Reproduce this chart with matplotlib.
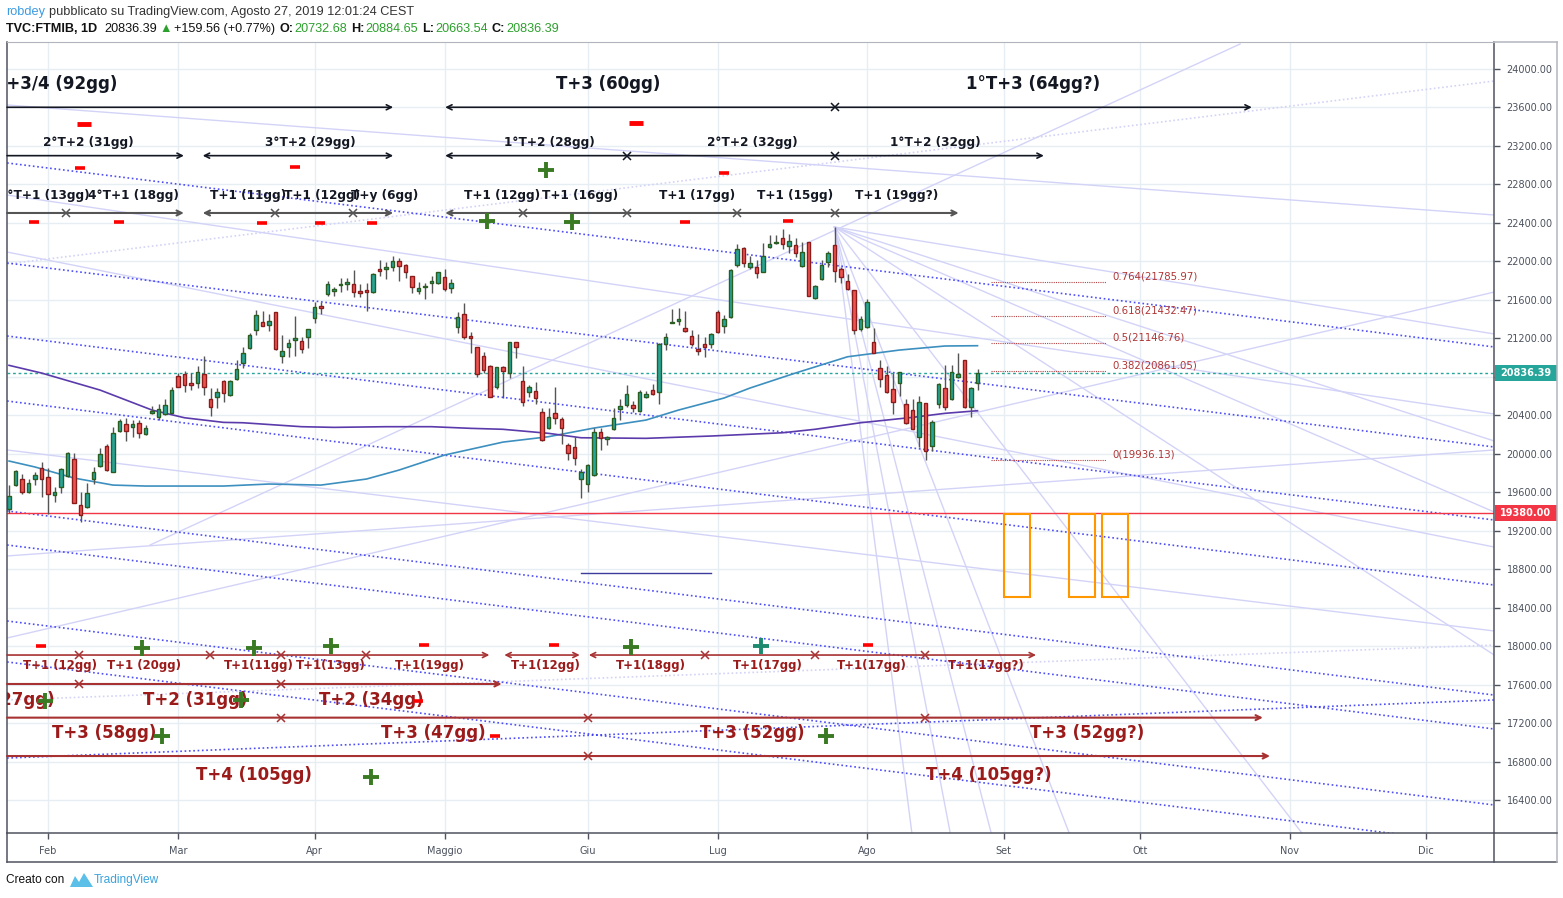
import matplotlib
matplotlib.use('Agg')
import matplotlib.pyplot as plt
from matplotlib.lines import Line2D
from matplotlib.patches import Rectangle, Polygon

W, H = 1563, 898

# ============================================================
# Candles (bar index: 0 = 1 Feb 2019, 6.5 px per bar)
# ============================================================
bar_idx = list(range(-6, 144))
opens = [19422, 19671, 19740, 19598, 19733, 19855,
         19754, 19567, 19650, 19765, 19941, 19463, 19442, 19740, 19876, 20077,
         19806, 20233, 20305, 20274, 20316, 20201, 20427, 20378, 20409, 20427,
         20808, 20829, 20725, 20739, 20829, 20565, 20593, 20752, 20607, 20773,
         20947, 21096, 21283, 21366, 21342, 21470, 21019, 21106, 21186, 21168,
         21210, 21407, 21536, 21657, 21695, 21751, 21768, 21765, 21692, 21695,
         21678, 21920, 21924, 21938, 22000, 21959, 21848, 21695, 21730, 21771,
         21771, 21834, 21719, 21321, 21449, 21214, 21106, 21012, 20912, 20697,
         20898, 20843, 21158, 20752, 20638, 20655, 20430, 20264, 20420, 20357,
         20087, 20073, 19733, 19681, 19779, 20229, 20149, 20253, 20465, 20503,
         20506, 20447, 20586, 20659, 20638, 21144, 21356, 21376, 21310, 21227,
         21089, 21144, 21137, 21470, 21328, 21418, 21959, 22135, 21945, 21938,
         21893, 22153, 22187, 22240, 22163, 22170, 21955, 22198, 21616, 21817,
         21997, 22170, 21920, 21796, 21699, 21297, 21314, 21158, 20888, 20818,
         20669, 20739, 20513, 20451, 20177, 20524, 20084, 20513, 20680, 20565,
         20794, 20971, 20482, 20732.68]
highs = [19674, 19831, 19785, 19733, 19806, 19910,
         19848, 19657, 19848, 20018, 20004, 19598, 19692, 19865, 20056, 20101,
         20274, 20361, 20368, 20350, 20350, 20298, 20496, 20517, 20565, 20690,
         20836, 20860, 20836, 20912, 21016, 20680, 20680, 20766, 20766, 20974,
         21113, 21258, 21494, 21484, 21453, 21470, 21234, 21193, 21432, 21217,
         21293, 21574, 21574, 21796, 21737, 21830, 21823, 21910, 21765, 21771,
         21875, 22014, 21990, 22056, 22035, 21972, 21848, 21782, 21771, 21848,
         21889, 21920, 21813, 21477, 21570, 21269, 21106, 21057, 20922, 20898,
         20912, 21165, 21165, 20912, 20714, 20742, 20472, 20472, 20690, 20385,
         20115, 20177, 19837, 19893, 20264, 20271, 20187, 20472, 20565, 20714,
         20544, 20662, 20655, 20725, 21154, 21252, 21501, 21511, 21484, 21286,
         21245, 21210, 21252, 21494, 21442, 21917, 22180, 22146, 22056, 22014,
         22194, 22274, 22274, 22336, 22285, 22240, 22198, 22198, 21754, 22014,
         22111, 22357, 21945, 21865, 21699, 21432, 21605, 21304, 20974, 20912,
         20836, 20853, 20565, 20565, 20600, 20531, 20350, 20739, 20922, 20922,
         21044, 20971, 20697, 20884.65]
lows = [19380, 19664, 19581, 19588, 19674, 19553,
        19373, 19501, 19588, 19761, 19484, 19293, 19439, 19685, 19865, 19820,
        19806, 20222, 20135, 20170, 20167, 20194, 20413, 20350, 20402, 20420,
        20690, 20641, 20662, 20687, 20610, 20395, 20479, 20541, 20600, 20766,
        20888, 21089, 21234, 21328, 21279, 21078, 20940, 21002, 21019, 21050,
        21102, 21362, 21453, 21643, 21643, 21685, 21702, 21626, 21633, 21487,
        21667, 21851, 21816, 21903, 21799, 21830, 21674, 21661, 21605, 21667,
        21768, 21695, 21674, 21258, 21189, 21044, 20801, 20843, 20593, 20669,
        20576, 20784, 20992, 20499, 20593, 20513, 20132, 20257, 20312, 20101,
        19934, 19882, 19543, 19605, 19768, 20038, 20090, 20246, 20350, 20489,
        20434, 20437, 20576, 20610, 20517, 21078, 21356, 21338, 21269, 21123,
        21026, 21009, 21096, 21252, 21258, 21407, 21945, 21938, 21917, 21830,
        21886, 22142, 22180, 22125, 22090, 22049, 21938, 21640, 21605, 21806,
        21945, 21789, 21778, 21702, 21245, 21276, 21307, 21044, 20697, 20635,
        20413, 20600, 20305, 20253, 20066, 19936, 20028, 20479, 20454, 20558,
        20784, 20479, 20378, 20663.54]
closes = [19564, 19817, 19605, 19699, 19775, 19733,
          19578, 19605, 19837, 20004, 19484, 19359, 19588, 19806, 19993, 19831,
          20212, 20337, 20233, 20305, 20212, 20264, 20440, 20461, 20503, 20659,
          20697, 20718, 20718, 20853, 20697, 20489, 20641, 20635, 20752, 20877,
          21050, 21238, 21439, 21331, 21380, 21085, 21064, 21148, 21203, 21085,
          21293, 21522, 21518, 21761, 21709, 21765, 21771, 21678, 21674, 21685,
          21868, 21896, 21927, 22000, 21955, 21893, 21730, 21719, 21740, 21796,
          21886, 21709, 21771, 21418, 21217, 21207, 20825, 20870, 20593, 20898,
          20863, 21158, 21106, 20541, 20697, 20576, 20139, 20378, 20368, 20264,
          20004, 19952, 19806, 19879, 20229, 20160, 20177, 20368, 20493, 20617,
          20472, 20638, 20617, 20624, 21137, 21217, 21369, 21397, 21279, 21137,
          21064, 21113, 21241, 21262, 21397, 21907, 22125, 21986, 21979, 21882,
          22056, 22180, 22190, 22177, 22208, 22083, 22094, 21643, 21744, 21962,
          22083, 21903, 21841, 21709, 21286, 21401, 21574, 21050, 20773, 20638,
          20541, 20846, 20323, 20260, 20541, 20028, 20326, 20721, 20489, 20846,
          20825, 20482, 20680, 20836.39]

# moving averages
ma_blue_x = [-6, -2, 4, 10, 15, 27, 34, 42, 49, 54, 61, 70, 77, 84, 92, 97, 104, 108, 115, 123, 131, 138, 143]
ma_blue_y = [19924, 19862, 19747, 19674, 19664, 19664, 19685, 19674, 19737, 19830, 19986, 20121, 20177,
             20267, 20350, 20454, 20579, 20683, 20839, 21008, 21078, 21120, 21123]
ma_purple_x = [-6, -1, 8, 16, 21, 27, 30, 39, 44, 52, 59, 65, 70, 77, 82, 92, 102, 113, 118, 125, 133, 138, 143]
ma_purple_y = [20919, 20839, 20662, 20454, 20374, 20326, 20322, 20281, 20274, 20281, 20281, 20264, 20254,
               20212, 20166, 20160, 20184, 20218, 20254, 20322, 20378, 20420, 20447]

# months on the time axis
month_idx = [0, 20, 41, 61, 83, 103, 126, 147, 168, 191, 212]
month_lbl = ['Feb', 'Mar', 'Apr', 'Maggio', 'Giu', 'Lug', 'Ago', 'Set', 'Ott', 'Nov', 'Dic']

last_price = 20836.39
level_price = 19380.00

# ============================================================
# Drawings (index, price pairs)
# ============================================================
channel_lines = [  # blue dotted channel
    (-6.3, 23023, 222.5, 21110), (-6.3, 21983, 222.5, 20070), (-6.3, 21224, 222.5, 19311),
    (-6.3, 20548, 222.5, 18635), (-6.3, 19405, 222.5, 17491), (-6.3, 19051, 222.5, 17138),
    (-6.3, 18261, 222.5, 16348), (-6.3, 17835, 222.5, 15921), (-6.3, 16836, 222.5, 17440),
]
faint_lines = [
    (-6.3, 23626, 222.5, 22482), (-6.3, 22097, 222.5, 19030), (-6.3, 20039, 222.5, 18157),
    (-6.3, 22690, 222.5, 20413), (15.7, 19051, 183.4, 24260), (-6.3, 18937, 222.5, 20039),
    (-6.3, 18084, 222.5, 21681),
]
faint_dotted = [(-6.3, 21973, 222.5, 23875), (-6.3, 17440, 222.5, 18011)]
fan_apex = (121, 22357)
fan_ends = [(132.9, 16057), (138.8, 16057), (145.1, 16057), (157.1, 16057), (192.9, 16057),
            (222.5, 20132), (222.5, 19394), (222.5, 17907), (222.5, 21245)]

fib_levels = [21785.97, 21432.47, 21146.76, 20861.05, 19936.13]
fib_names = ['0.764', '0.618', '0.5', '0.382', '0']
fib_span = (145.1, 162.8)

boxes = [(147.1, 151.1), (157.1, 161.1), (162.2, 166.2)]
box_top, box_bottom = 19370, 18507
short_line = (82, 102, 18759)

# date ranges: (start, end, start mark, end mark)
top_row1 = [(-6.3, 53.1, '', '>'), (61.1, 121.1, '<', 'x'), (121.1, 185.2, '', '>')]
top_row1_lbl = [(1.2, 'T+3/4 (92gg)'), (86.2, 'T+3 (60gg)'), (151.5, '1°T+3 (64gg?)')]
top_row2 = [(-6.3, 20.9, '', '>'), (23.8, 53.1, '<', '>'), (61.1, 89, '<', 'x'),
            (89, 121.1, '', 'x'), (121.1, 153.2, '', '>')]
top_row2_lbl = [(6.2, '2°T+2 (31gg)'), (40.3, '3°T+2 (29gg)'), (77.1, '1°T+2 (28gg)'),
                (108.3, '2°T+2 (32gg)'), (136.5, '1°T+2 (32gg)')]
top_row3 = [(-6.3, 2.77, '', 'x'), (2.77, 20.9, '', '>'), (23.8, 34.9, '<', 'x'), (34.9, 46.9, '', 'x'),
            (46.9, 53.1, '', '>'), (61.1, 73, '<', 'x'), (73, 89, '', 'x'), (89, 106, '', 'x'),
            (106, 121.1, '', 'x'), (121.1, 140.1, '', '>')]
top_row3_lbl = [(-0.6, '3°T+1 (13gg)'), (13.1, '4°T+1 (18gg)'), (30.8, 'T+1 (11gg)'), (42.2, 'T+1 (12gg)'),
                (51.8, 'T+y (6gg)'), (69.8, 'T+1 (12gg)'), (81.8, 'T+1 (16gg)'), (99.8, 'T+1 (17gg)'),
                (114.9, 'T+1 (15gg)'), (130.6, 'T+1 (19gg?)')]
bot_row1 = [(-6.3, 4.77, '', 'x'), (4.77, 24.85, '', 'x'), (24.85, 35.9, '', 'x'), (35.9, 48.9, '', 'x'),
            (48.9, 67.9, '', '>'), (70.2, 81.8, '<', '>'), (83.2, 101.1, '<', 'x'), (101.1, 118, '', 'x'),
            (118, 134.9, '', 'x'), (134.9, 152, '', '>')]
bot_row1_lbl = [(1.8, 'T+1 (12gg)'), (14.8, 'T+1 (20gg)'), (32.5, 'T+1(11gg)'), (43.5, 'T+1(13gg)'),
                (58.8, 'T+1(19gg)'), (76.6, 'T+1(12gg)'), (92.7, 'T+1(18gg)'), (110.7, 'T+1(17gg)'),
                (126.8, 'T+1(17gg)'), (144.3, 'T+1(17gg?)')]
bot_row2 = [(-6.3, 4.77, '', 'x'), (4.77, 35.9, '', 'x'), (35.9, 69.8, '', '>')]
bot_row2_lbl = [(-7.0, 'T+2 (27gg)'), (22.7, 'T+2 (31gg)'), (49.8, 'T+2 (34gg)')]
bot_row3 = [(-6.3, 35.9, '', 'x'), (35.9, 83.1, '', 'x'), (83.1, 134.9, '', 'x'), (134.9, 186.9, '', '>')]
bot_row3_lbl = [(8.7, 'T+3 (58gg)'), (59.2, 'T+3 (47gg)'), (108.3, 'T+3 (52gg)'), (159.8, 'T+3 (52gg?)')]
bot_row4 = [(-6.3, 83.1, '', 'x'), (83.1, 188, '', '>')]
bot_row4_lbl = [(31.7, 'T+4 (105gg)'), (144.7, 'T+4 (105gg?)')]
row_price = {'t1': 23602, 't2': 23099, 't3': 22503, 'b1': 17907, 'b2': 17606, 'b3': 17256, 'b4': 16857}
lbl_price = {'t1': 23844, 't2': 23231, 't3': 22680, 'b1': 17793, 'b2': 17440, 'b3': 17096, 'b4': 16660}

# +/- signals
minus_big = [(5.5, 23425), (90.5, 23436)]
minus_small = [(4.85, 22968), (38, 22976), (104, 22915), (-2.2, 22406), (10.85, 22406), (32.85, 22396),
               (41.9, 22396), (49.9, 22396), (98, 22410), (113.9, 22417),
               (-1.1, 18001), (57.9, 18011), (77.9, 18011), (126.2, 18011), (56.9, 17426), (68.8, 17070)]
plus_green = [(76.6, 22950), (67.6, 22420), (80.6, 22410),
              (14.5, 17985), (31.7, 17980), (43.5, 18001), (89.7, 17990),
              (-0.4, 17434), (29.7, 17439), (17.5, 17070), (119.7, 17070), (49.7, 16634)]
plus_teal = [(109.7, 18001)]

# ============================================================
# Styles
# ============================================================
C_AXIS = '#50535e'
C_TXT = '#4c525e'
C_GRID = '#e6edf3'
C_UP, C_UP_EDGE = '#26a69a', '#2b5d20'
C_DN, C_DN_EDGE = '#ef5350', '#8b1c1c'
C_DARK = '#131722'
C_RED_LBL = '#9b1b1b'
C_FAINT = '#d3d3f8'


def px(x, y):
    return x / W, 1 - y / H


def seg(ax, lines, **kw):
    for x0, y0, x1, y1 in lines:
        ax.plot([x0, x1], [y0, y1], **kw)


def draw_ranges(ax, segs, y, color, lw):
    for x0, x1, m0, m1 in segs:
        style = {('', '>'): '->', ('<', '>'): '<->', ('<', 'x'): '<-', ('<', ''): '<-'}.get((m0, m1), '-')
        ax.annotate('', xy=(x1, y), xytext=(x0, y),
                    arrowprops=dict(arrowstyle=style, color=color, lw=lw, shrinkA=0, shrinkB=0,
                                    mutation_scale=9), zorder=6)
        for m, xx in ((m0, x0), (m1, x1)):
            if m == 'x':
                ax.plot(xx, y, marker='x', ms=5.5, mew=1.1, color=color, zorder=6)


def draw_labels(ax, labels, y, color, size, weight='bold'):
    for xx, s in labels:
        ax.text(xx, y, s, ha='center', va='center', color=color, fontsize=size,
                fontweight=weight, family='DejaVu Sans', clip_on=True, zorder=7)


fig = plt.figure(figsize=(W / 100, H / 100), dpi=100)
fig.patch.set_facecolor('white')
ax = fig.add_axes([7 / W, (H - 833) / H, 1487 / W, 791 / H])
ax.set_xlim(-6.31, 222.46)
ax.set_ylim(16056.7, 24280.7)

# grid
ax.set_yticks(list(range(16400, 24001, 400)))
ax.yaxis.set_major_formatter(plt.FuncFormatter(lambda v, p: f'{v:.2f}'))
ax.yaxis.tick_right()
ax.set_xticks(month_idx, month_lbl)
ax.grid(True, color=C_GRID, lw=1, zorder=0)
ax.set_axisbelow(True)
ax.tick_params(axis='y', direction='out', length=4, width=1, color=C_AXIS, labelsize=7,
               labelcolor=C_TXT, pad=5, right=True, labelright=True, left=False, labelleft=False)
ax.tick_params(axis='x', direction='out', length=4, width=1, color=C_AXIS, labelsize=7,
               labelcolor=C_TXT, pad=5)
for side in ('left', 'right', 'bottom'):
    ax.spines[side].set_color(C_AXIS)
    ax.spines[side].set_linewidth(1.1)
ax.spines['top'].set_color('#b2b5be')
ax.spines['top'].set_linewidth(0.8)

# faint drawings
seg(ax, faint_lines, color=C_FAINT, lw=1, zorder=1)
seg(ax, faint_dotted, color=C_FAINT, lw=1.2, ls=(0, (1, 1.5)), zorder=1)
for ex, ey in fan_ends:
    ax.plot([fan_apex[0], ex], [fan_apex[1], ey], color=C_FAINT, lw=1, zorder=1)
seg(ax, channel_lines, color='#2f2ff5', lw=1.2, ls=(0, (1, 1.6)), alpha=0.85, zorder=2)

# levels
ax.axhline(level_price, color='#f23645', lw=1, zorder=2)
ax.axhline(last_price, color='#26a69a', lw=1, ls=(0, (2, 2)), zorder=2)
ax.plot([short_line[0], short_line[1]], [short_line[2], short_line[2]], color='#3c3c9c', lw=1, zorder=2)

# moving averages
ax.plot(ma_blue_x, ma_blue_y, color='#3d8fbf', lw=1.2, zorder=3)
ax.plot(ma_purple_x, ma_purple_y, color='#5b3bab', lw=1.2, zorder=3)

# candles
body_lo = [min(o, c) for o, c in zip(opens, closes)]
body_h = [max(abs(c - o), 18) for o, c in zip(opens, closes)]
up = [c >= o for o, c in zip(opens, closes)]
ax.vlines(bar_idx, lows, highs, color='#555555', lw=1, zorder=3.5)
ax.bar(bar_idx, body_h, bottom=body_lo, width=0.58,
       color=[C_UP if u else C_DN for u in up],
       edgecolor=[C_UP_EDGE if u else C_DN_EDGE for u in up], linewidth=1, zorder=4)

# fib retracement
for lv, nm in zip(fib_levels, fib_names):
    ax.plot(fib_span, [lv, lv], color='#b24545', lw=0.8, ls=(0, (1, 1)), zorder=2)
    ax.text(fib_span[1] + 1.0, lv + 60, f'{nm}({lv:.2f})', color='#b03535', fontsize=7.3,
            ha='left', va='center', zorder=7)

# orange boxes
for x0, x1 in boxes:
    ax.add_patch(Rectangle((x0, box_bottom), x1 - x0, box_top - box_bottom, fill=False,
                           ec='#ff9800', lw=1.5, zorder=5))

# date ranges
draw_ranges(ax, top_row1, row_price['t1'], C_DARK, 1.2)
draw_ranges(ax, top_row2, row_price['t2'], C_DARK, 1.2)
draw_ranges(ax, top_row3, row_price['t3'], '#555555', 1.5)
draw_ranges(ax, bot_row1, row_price['b1'], '#a83232', 1.2)
draw_ranges(ax, bot_row2, row_price['b2'], '#a83232', 1.5)
draw_ranges(ax, bot_row3, row_price['b3'], '#a83232', 1.5)
draw_ranges(ax, bot_row4, row_price['b4'], '#a83232', 1.5)
draw_labels(ax, top_row1_lbl, lbl_price['t1'], C_DARK, 12)
draw_labels(ax, top_row2_lbl, lbl_price['t2'], C_DARK, 8.7)
draw_labels(ax, top_row3_lbl, lbl_price['t3'], C_DARK, 8.7)
draw_labels(ax, bot_row1_lbl, lbl_price['b1'], C_RED_LBL, 8.5)
draw_labels(ax, bot_row2_lbl, lbl_price['b2'], C_RED_LBL, 12)
draw_labels(ax, bot_row3_lbl, lbl_price['b3'], C_RED_LBL, 12)
draw_labels(ax, bot_row4_lbl, lbl_price['b4'], C_RED_LBL, 12)

# signals
for xx, yy in minus_big:
    ax.plot(xx, yy, marker='_', ms=10.5, mew=3.5, color='#ff0000', zorder=8)
for xx, yy in minus_small:
    ax.plot(xx, yy, marker='_', ms=7, mew=2.6, color='#ff0000', zorder=8)
for xx, yy in plus_green:
    ax.plot(xx, yy, marker='+', ms=11, mew=2.8, color='#3a7a22', zorder=8)
for xx, yy in plus_teal:
    ax.plot(xx, yy, marker='+', ms=11, mew=2.8, color='#1b8a6e', zorder=8)

# price labels on the axis
ytr = ax.get_yaxis_transform()
for val, col in ((last_price, '#26a69a'), (level_price, '#f23645')):
    ax.add_patch(Rectangle((1.0005, val - 82), 0.0418, 166, transform=ytr, fc=col, ec='none',
                           clip_on=False, zorder=9))
    ax.text(1.0005 + 0.0209, val, f'{val:.2f}', transform=ytr, color='white', fontsize=7,
            fontweight='bold', ha='center', va='center', clip_on=False, zorder=10)

# frame around time / price scales
for (x0, y0, x1, y1) in ((1494, 833, 1494, 862), (7, 833, 7, 862), (7, 862, 1557, 862),
                         (1557, 42, 1557, 862), (1494, 833, 1557, 833), (1494, 42, 1557, 42)):
    a, b = px(x0, y0)
    c, d = px(x1, y1)
    fig.add_artist(Line2D([a, c], [b, d], color=C_AXIS if y0 != 42 else '#b2b5be', lw=1.1))

# header
fam = ['Liberation Sans', 'DejaVu Sans']
renderer = fig.canvas.get_renderer()


def text_run(x, y, pieces, size):
    for s, col, wt, gap in pieces:
        t = fig.text(*px(x, y), s, color=col, fontsize=size, fontweight=wt, family=fam,
                     ha='left', va='center')
        x += t.get_window_extent(renderer).width + gap


GREEN = '#2ca02c'
text_run(6, 12, [('robdey', '#3c9be3', 'normal', 4),
                 ('pubblicato su TradingView.com, Agosto 27, 2019 12:01:24 CEST', '#333333', 'normal', 0)], 9.2)
text_run(6, 29, [('TVC:FTMIB, 1D', '#111111', 'bold', 7), ('20836.39', '#111111', 'normal', 3),
                 ('▲', GREEN, 'normal', 2), ('+159.56 (+0.77%)', '#111111', 'normal', 4),
                 ('O:', '#111111', 'bold', 1), ('20732.68', GREEN, 'normal', 4),
                 ('H:', '#111111', 'bold', 1), ('20884.65', GREEN, 'normal', 4),
                 ('L:', '#111111', 'bold', 1), ('20663.54', GREEN, 'normal', 4),
                 ('C:', '#111111', 'bold', 1), ('20836.39', GREEN, 'normal', 0)], 9.1)

# footer
fig.text(*px(6, 880), 'Creato con', color='#111111', fontsize=8.6, family=fam, ha='left', va='center')
logo = [px(70, 887), px(75, 876), px(79, 882), px(84, 873), px(93, 887)]
fig.add_artist(Polygon(logo, closed=True, fc='#5bbfe8', ec='none', transform=fig.transFigure))
fig.text(*px(94, 880), 'TradingView', color='#3aa3dc', fontsize=8.6, family=fam, ha='left', va='center')

fig.savefig('out.png', dpi=100)
